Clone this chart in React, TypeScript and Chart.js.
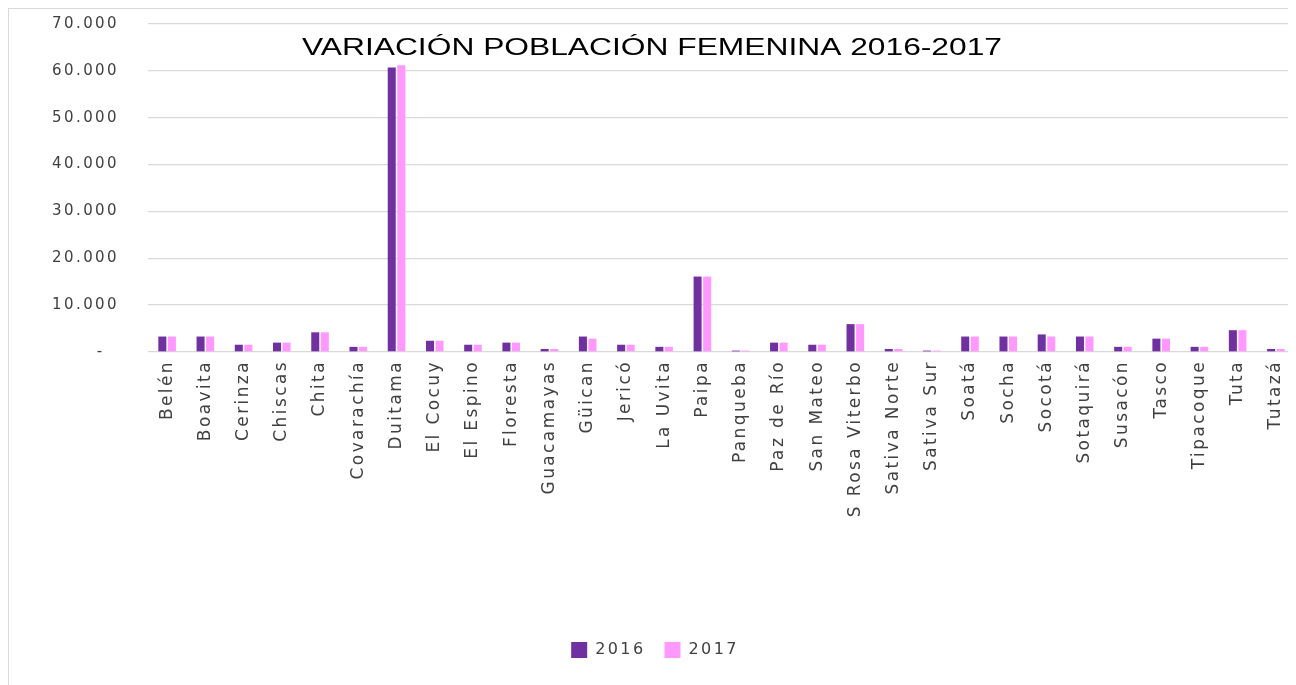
import React, { useEffect, useRef } from "react";
import { Chart, registerables } from "chart.js";

Chart.register(...registerables);

const categories = [
  "Belén", "Boavita", "Cerinza", "Chiscas", "Chita", "Covarachía", "Duitama",
  "El Cocuy", "El Espino", "Floresta", "Guacamayas", "Güican", "Jericó",
  "La Uvita", "Paipa", "Panqueba", "Paz de Río", "San Mateo", "S Rosa Viterbo",
  "Sativa Norte", "Sativa Sur", "Soatá", "Socha", "Socotá", "Sotaquirá",
  "Susacón", "Tasco", "Tipacoque", "Tuta", "Tutazá",
];

const values2016 = [
  3300, 3300, 1550, 2000, 4200, 1100, 60730,
  2400, 1550, 2000, 650, 3300, 1550,
  1100, 16100, 300, 2000, 1550, 5950,
  650, 300, 3300, 3300, 3750, 3300,
  1100, 2850, 1100, 4650, 650,
];

const values2017 = [
  3300, 3300, 1550, 2000, 4200, 1100, 61220,
  2400, 1550, 2000, 650, 2850, 1550,
  1100, 16100, 300, 2000, 1550, 5950,
  650, 300, 3300, 3300, 3300, 3300,
  1100, 2850, 1100, 4650, 650,
];

const seriesLabels = ["2016", "2017"];
const titleText = "VARIACIÓN POBLACIÓN FEMENINA 2016-2017";
const SPACING = "2.4px";

const spacingPlugin = {
  id: "spacing",
  beforeLayout(chart: any) {
    chart.ctx.letterSpacing = SPACING;
  },
  beforeDraw(chart: any) {
    chart.ctx.letterSpacing = SPACING;
  },
  afterDraw(chart: any) {
    const ctx = chart.ctx;
    ctx.save();
    ctx.letterSpacing = "0px";
    ctx.font = "24px 'Liberation Sans', Arial, sans-serif";
    ctx.fillStyle = "#000000";
    ctx.textBaseline = "alphabetic";
    ctx.textAlign = "left";
    const w = ctx.measureText(titleText).width;
    const target = 700;
    const cx = 643;
    ctx.translate(cx - target / 2, 46);
    ctx.scale(target / w, 1);
    ctx.fillText(titleText, 0, 0);
    ctx.restore();
    ctx.letterSpacing = SPACING;
  },
};

export default function App() {
  const ref = useRef<HTMLCanvasElement | null>(null);

  useEffect(() => {
    if (!ref.current) return;
    const chart = new Chart(ref.current, {
      type: "bar",
      data: {
        labels: categories,
        datasets: [
          {
            label: seriesLabels[0],
            data: values2016,
            backgroundColor: "#7030A0",
            categoryPercentage: 0.5,
            barPercentage: 0.84,
          },
          {
            label: seriesLabels[1],
            data: values2017,
            backgroundColor: "#FF99FF",
            categoryPercentage: 0.5,
            barPercentage: 0.84,
          },
        ],
      },
      options: {
        responsive: true,
        maintainAspectRatio: false,
        animation: false,
        layout: { padding: { top: 15, left: 6, right: 0, bottom: 41 } },
        plugins: {
          title: { display: false },
          tooltip: { enabled: false },
          legend: {
            position: "bottom",
            labels: {
              boxWidth: 16,
              boxHeight: 16,
              padding: 19,
              color: "#404040",
              font: { family: "'DejaVu Sans', sans-serif", size: 16 },
            },
          },
        },
        scales: {
          x: {
            grid: { display: false, drawTicks: false },
            border: { display: false },
            ticks: {
              color: "#404040",
              font: { family: "'DejaVu Sans', sans-serif", size: 17 },
              minRotation: 90,
              maxRotation: 90,
              padding: 8,
              autoSkip: false,
            },
            afterFit(scale: any) {
              scale.height = 271;
              scale.paddingTop = 0;
              scale.paddingBottom = 0;
              scale.paddingLeft = 0;
              scale.paddingRight = 0;
            },
          },
          y: {
            min: 0,
            max: 70000,
            grid: { color: "#d9d9d9", lineWidth: 1.3, drawTicks: false },
            border: { display: false },
            ticks: {
              stepSize: 10000,
              color: "#404040",
              font: { family: "'DejaVu Sans', sans-serif", size: 15 },
              padding: 29,
              callback: (v: any) =>
                Number(v) === 0 ? "-  " : String(Number(v) / 1000) + ".000",
            },
            afterFit(scale: any) {
              scale.width = 133;
              scale.paddingTop = 0;
              scale.paddingBottom = 0;
            },
          },
        },
      },
      plugins: [spacingPlugin],
    });
    return () => chart.destroy();
  }, []);

  return (
    <div
      style={{
        width: 1286,
        height: 700,
        border: "1px solid #d9d9d9",
        position: "relative",
        background: "#fff",
      }}
    >
      <canvas ref={ref} />
    </div>
  );
}
